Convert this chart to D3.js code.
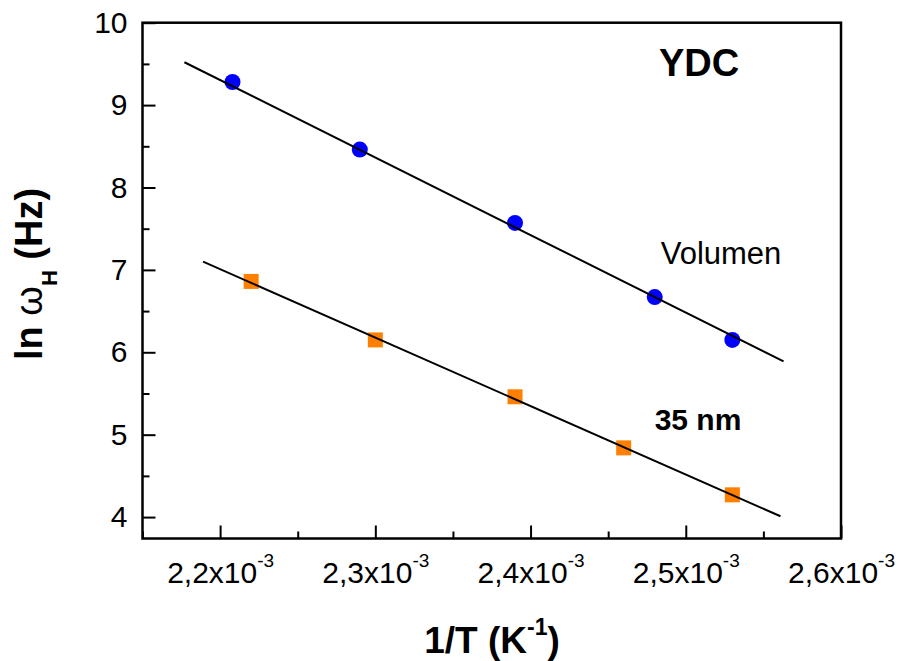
<!DOCTYPE html>
<html lang="en">
<head>
    <meta charset="UTF-8">
    <title>YDC</title>
    <script src="https://d3js.org/d3.v7.min.js"></script>
    <style>
        body { margin: 0; background: white; }
        text { font-family: "Liberation Sans", Arial, sans-serif; fill: black; }
        .tick line { stroke: black; stroke-width: 2; }
    </style>
</head>
<body>
<svg height="661" width="899"></svg>

<script>
    // data
    const volX = [2.208e-3, 2.290e-3, 2.390e-3, 2.480e-3, 2.530e-3];
    const volY = [9.28, 8.46, 7.57, 6.67, 6.15];
    const nmX  = [2.220e-3, 2.300e-3, 2.390e-3, 2.460e-3, 2.530e-3];
    const nmY  = [6.86, 6.15, 5.46, 4.84, 4.27];
    // fitted lines, as drawn (start / end)
    const volFitX = [2.177e-3, 2.563e-3];
    const volFitY = [9.52, 5.89];
    const nmFitX  = [2.189e-3, 2.561e-3];
    const nmFitY  = [7.10, 4.01];

    const xTicks = [2.2e-3, 2.3e-3, 2.4e-3, 2.5e-3, 2.6e-3];
    const xTickLabels = ["2,2", "2,3", "2,4", "2,5", "2,6"];
    const xMinor = [2.15e-3, 2.25e-3, 2.35e-3, 2.45e-3, 2.55e-3];
    const yTicks = [4, 5, 6, 7, 8, 9, 10];
    const yMinor = [4.5, 5.5, 6.5, 7.5, 8.5, 9.5];

    const svg = d3.select("svg");
    const pLeft = 142.5, pRight = 841, pTop = 22.7, pBottom = 538.5;

    const x = d3.scaleLinear().domain([2.15e-3, 2.6e-3]).range([pLeft, pRight]);
    const y = d3.scaleLinear().domain([3.74, 10]).range([pBottom, pTop]);

    // markers first, fit lines on top of them
    svg.selectAll("circle.vol")
        .data(volX.map((d, i) => [d, volY[i]]))
        .enter().append("circle")
        .attr("cx", d => x(d[0]))
        .attr("cy", d => y(d[1]))
        .attr("r", 8)
        .style("fill", "#0000ff");

    svg.selectAll("rect.nm")
        .data(nmX.map((d, i) => [d, nmY[i]]))
        .enter().append("rect")
        .attr("x", d => x(d[0]) - 7.5)
        .attr("y", d => y(d[1]) - 7.5)
        .attr("width", 15)
        .attr("height", 15)
        .style("fill", "#ff8000");

    const line = d3.line().x(d => x(d[0])).y(d => y(d[1]));
    [[volFitX, volFitY], [nmFitX, nmFitY]].forEach(function([fx, fy]) {
        svg.append("path")
            .attr("d", line(fx.map((d, i) => [d, fy[i]])))
            .style("fill", "none")
            .style("stroke", "black")
            .style("stroke-width", 2);
    });

    // bottom axis, ticks pointing in
    const xAxis = svg.append("g")
        .attr("transform", `translate(0,${pBottom})`)
        .call(d3.axisBottom(x).tickValues(xTicks).tickSizeInner(-13).tickSizeOuter(0)
            .tickPadding(23).tickFormat(() => ""));
    xAxis.select(".domain").remove();
    xAxis.selectAll(".tick text")
        .style("font-size", "30px")
        .each(function(d, i) {
            const t = d3.select(this);
            t.append("tspan").text(xTickLabels[i] + "x10");
            t.append("tspan").attr("dy", -16).style("font-size", "19px").text("-3");
        });

    const xMin = svg.append("g")
        .attr("transform", `translate(0,${pBottom})`)
        .call(d3.axisBottom(x).tickValues(xMinor).tickSizeInner(-7).tickSizeOuter(0).tickFormat(""));
    xMin.select(".domain").remove();

    // left axis
    const yAxis = svg.append("g")
        .attr("transform", `translate(${pLeft},0)`)
        .call(d3.axisLeft(y).tickValues(yTicks).tickSizeInner(-13).tickSizeOuter(0)
            .tickPadding(15).tickFormat(d3.format("d")));
    yAxis.select(".domain").remove();
    yAxis.selectAll(".tick text").style("font-size", "30px");

    const yMin = svg.append("g")
        .attr("transform", `translate(${pLeft},0)`)
        .call(d3.axisLeft(y).tickValues(yMinor).tickSizeInner(-7).tickSizeOuter(0).tickFormat(""));
    yMin.select(".domain").remove();

    // frame
    svg.append("rect")
        .attr("x", pLeft).attr("y", pTop)
        .attr("width", pRight - pLeft).attr("height", pBottom - pTop)
        .style("fill", "none")
        .style("stroke", "black")
        .style("stroke-width", 2.5);

    // labels inside the plot
    svg.append("text").attr("x", 699).attr("y", 76)
        .attr("text-anchor", "middle")
        .style("font-size", "38px").style("font-weight", "bold")
        .text("YDC");
    svg.append("text").attr("x", 721).attr("y", 264)
        .attr("text-anchor", "middle")
        .style("font-size", "31px")
        .text("Volumen");
    svg.append("text").attr("x", 698).attr("y", 430)
        .attr("text-anchor", "middle")
        .style("font-size", "30px").style("font-weight", "bold")
        .text("35 nm");

    // axis titles
    const xt = svg.append("text")
        .attr("x", 492).attr("y", 653)
        .attr("text-anchor", "middle")
        .style("font-size", "37px").style("font-weight", "bold");
    xt.append("tspan").text("1/T (K");
    xt.append("tspan").attr("dy", -18).style("font-size", "23px").text("-1");
    xt.append("tspan").attr("dy", 18).text(")");

    const yt = svg.append("text")
        .attr("transform", "translate(42,274) rotate(-90)")
        .attr("text-anchor", "middle")
        .style("font-size", "38px").style("font-weight", "bold");
    yt.append("tspan").text("ln ");
    yt.append("tspan").style("font-weight", "normal").text("ω");
    yt.append("tspan").attr("dy", 15).style("font-size", "22px").text("H");
    yt.append("tspan").attr("dy", -15).text(" (Hz)");
</script>

</body>
</html>
